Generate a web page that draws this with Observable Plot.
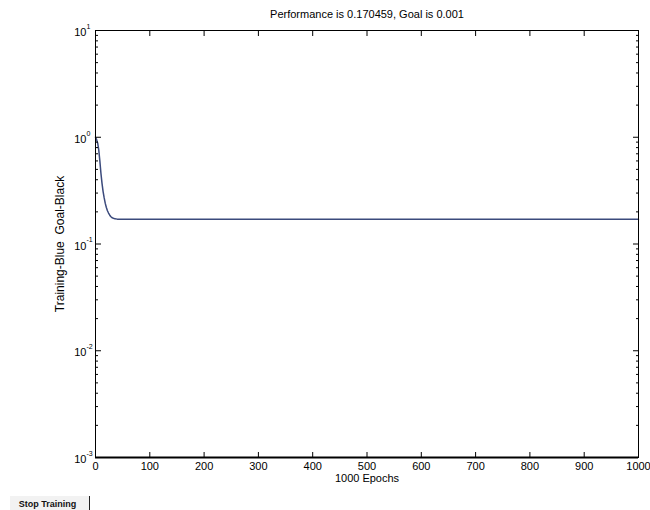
<!DOCTYPE html>
<html>
<head>
<meta charset="utf-8">
<script src="https://cdn.jsdelivr.net/npm/d3@7"></script>
<script src="https://cdn.jsdelivr.net/npm/@observablehq/plot@0.6"></script>
<style>
  body { margin: 0; background: #fff; font-family: "Liberation Sans", Arial, sans-serif; }
  #wrap { position: relative; width: 650px; height: 510px; overflow: hidden; }
  #btn { position: absolute; left: 10px; top: 496px; width: 80px; height: 16px; font: 600 9px "Liberation Sans", Arial, sans-serif;
         color: #111; background: #f2f2f2; display: flex; align-items: center; justify-content: center; border-right: 1px solid #222; box-sizing: border-box; padding-right: 4px; }
</style>
</head>
<body>
<div id="wrap"><div id="btn">Stop Training</div></div>
<script>
// Data
const epochs = [0, 2, 4, 6, 8, 10, 12, 14, 16, 18, 20, 22, 24, 26, 28, 30, 33, 36, 40, 45, 50, 60, 80, 100, 200, 300, 400, 500, 600, 700, 800, 900, 1000];
const performance = [1.0, 0.95, 0.88, 0.76, 0.6, 0.46, 0.37, 0.31, 0.27, 0.24, 0.22, 0.205, 0.195, 0.187, 0.181, 0.177, 0.174, 0.172, 0.171, 0.1707, 0.1706, 0.1705, 0.1705, 0.1705, 0.1705, 0.1705, 0.1705, 0.1705, 0.1705, 0.1705, 0.1705, 0.1705, 0.170459];
const goal = 0.001;
const xTicks = [0, 100, 200, 300, 400, 500, 600, 700, 800, 900, 1000];
const yMajor = [1e-3, 1e-2, 1e-1, 1e0, 1e1];
const yExponents = ["-3", "-2", "-1", "0", "1"];
const titleText = "Performance is 0.170459, Goal is 0.001";
const yLabelText = "Training-Blue\u00a0\u00a0Goal-Black";
const xLabelText = "1000 Epochs";

const series = epochs.map((e, i) => ({epoch: e, perf: performance[i]}));
const yMinor = [];
for (let d = -3; d < 1; d++) for (let m = 2; m <= 9; m++) yMinor.push(m * Math.pow(10, d));
const yLabels = yMajor.map((v, i) => ({v, exp: yExponents[i]}));

const font = "Liberation Sans, Arial, sans-serif";
const blank = () => "";

const chart = Plot.plot({
  width: 650,
  height: 490,
  marginLeft: 95,
  marginRight: 12,
  marginTop: 30,
  marginBottom: 33,
  style: {fontFamily: font, fontSize: "11px", color: "#000", background: "#fff", overflow: "visible"},
  x: {domain: [0, 1000]},
  y: {type: "log", domain: [1e-3, 1e1]},
  marks: [
    // goal line
    Plot.ruleY([goal], {stroke: "#000", strokeWidth: 2}),
    // training curve
    Plot.line(series, {x: "epoch", y: "perf", stroke: "#3b4a7c", strokeWidth: 1.5}),
    Plot.frame({stroke: "#000", strokeWidth: 1}),
    // inward ticks
    Plot.axisX({anchor: "bottom", ticks: xTicks, tickSize: -5, tickFormat: blank, label: null, stroke: "#000"}),
    Plot.axisX({anchor: "top", ticks: xTicks, tickSize: -5, tickFormat: blank, label: null, stroke: "#000"}),
    Plot.axisY({anchor: "left", ticks: yMajor, tickSize: -6, tickFormat: blank, label: null, stroke: "#000"}),
    Plot.axisY({anchor: "right", ticks: yMajor, tickSize: -6, tickFormat: blank, label: null, stroke: "#000"}),
    Plot.axisY({anchor: "left", ticks: yMinor, tickSize: -3, tickFormat: blank, label: null, stroke: "#000"}),
    Plot.axisY({anchor: "right", ticks: yMinor, tickSize: -3, tickFormat: blank, label: null, stroke: "#000"}),
    // x tick labels
    Plot.text(xTicks, {x: d => d, frameAnchor: "bottom", dy: 12, text: d => String(d), fontSize: 11, fill: "#000"}),
    // y tick labels: 10 with superscript exponent
    Plot.text(yLabels, {y: "v", frameAnchor: "left", dx: -9, dy: 2, text: () => "10", textAnchor: "end", fontSize: 11, fill: "#000"}),
    Plot.text(yLabels, {y: "v", frameAnchor: "left", dx: -9, dy: -4, text: "exp", textAnchor: "start", fontSize: 7, fill: "#000"}),
    // title and labels
    Plot.text([titleText], {frameAnchor: "top", dy: -20, text: d => d, fontSize: 11, fill: "#000"}),
    Plot.text([xLabelText], {frameAnchor: "bottom", dy: 24, text: d => d, fontSize: 11, fill: "#000"}),
    Plot.text([yLabelText], {frameAnchor: "left", dx: -35, dy: 0, rotate: -90, textAnchor: "middle", text: d => d, fontSize: 12, fill: "#000"})
  ]
});
document.getElementById("wrap").prepend(chart);
</script>
</body>
</html>
